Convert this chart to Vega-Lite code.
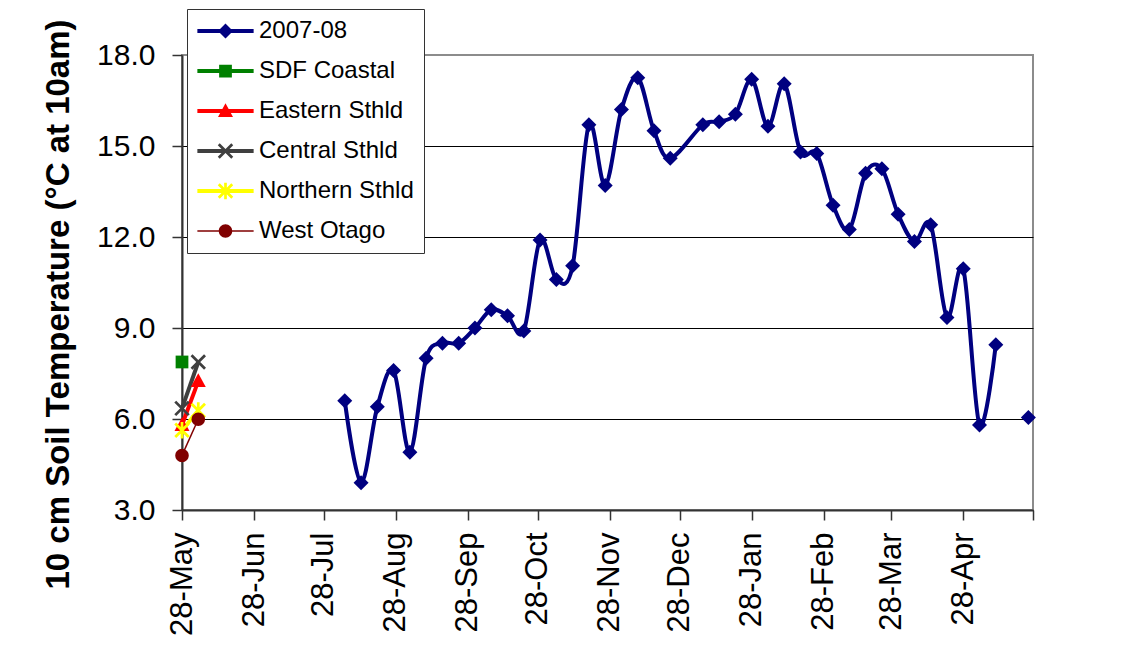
{
  "$schema": "https://vega.github.io/schema/vega-lite/v6.json",
  "width": 851,
  "height": 455,
  "autosize": {"type": "none"},
  "padding": {"left": 182, "top": 55, "right": 98, "bottom": 153},
  "background": "white",
  "config": {
    "font": "Liberation Sans",
    "view": {"stroke": "#8c8c8c", "strokeWidth": 2},
    "axis": {
      "labelFont": "Liberation Sans",
      "titleFont": "Liberation Sans",
      "labelColor": "black",
      "titleColor": "black",
      "domainColor": "#333333",
      "tickColor": "#333333",
      "domainWidth": 2,
      "tickWidth": 1.5,
      "tickSize": 10,
      "gridColor": "black",
      "gridWidth": 1,
      "gridOpacity": 1
    },
    "legend": {
      "labelFont": "Liberation Sans",
      "labelFontSize": 24,
      "labelColor": "black",
      "labelLimit": 400,
      "symbolSize": 225,
      "symbolStrokeWidth": 4,
      "symbolOffset": 16.5,
      "labelOffset": 21.5,
      "rowPadding": 16,
      "padding": 10,
      "fillColor": "white",
      "strokeColor": "#333333"
    }
  },
  "data": {
    "values": [
      {"series": "2007-08", "date": "2007-08-06", "temp": 6.6},
      {"series": "2007-08", "date": "2007-08-13", "temp": 3.9},
      {"series": "2007-08", "date": "2007-08-20", "temp": 6.4},
      {"series": "2007-08", "date": "2007-08-27", "temp": 7.6},
      {"series": "2007-08", "date": "2007-09-03", "temp": 4.9},
      {"series": "2007-08", "date": "2007-09-10", "temp": 8.0},
      {"series": "2007-08", "date": "2007-09-17", "temp": 8.5},
      {"series": "2007-08", "date": "2007-09-24", "temp": 8.5},
      {"series": "2007-08", "date": "2007-10-01", "temp": 9.0},
      {"series": "2007-08", "date": "2007-10-08", "temp": 9.6},
      {"series": "2007-08", "date": "2007-10-15", "temp": 9.4},
      {"series": "2007-08", "date": "2007-10-22", "temp": 8.9},
      {"series": "2007-08", "date": "2007-10-29", "temp": 11.9},
      {"series": "2007-08", "date": "2007-11-05", "temp": 10.6},
      {"series": "2007-08", "date": "2007-11-12", "temp": 11.05},
      {"series": "2007-08", "date": "2007-11-19", "temp": 15.7},
      {"series": "2007-08", "date": "2007-11-26", "temp": 13.7},
      {"series": "2007-08", "date": "2007-12-03", "temp": 16.2},
      {"series": "2007-08", "date": "2007-12-10", "temp": 17.25},
      {"series": "2007-08", "date": "2007-12-17", "temp": 15.5},
      {"series": "2007-08", "date": "2007-12-24", "temp": 14.6},
      {"series": "2007-08", "date": "2008-01-07", "temp": 15.7},
      {"series": "2007-08", "date": "2008-01-14", "temp": 15.8},
      {"series": "2007-08", "date": "2008-01-21", "temp": 16.05},
      {"series": "2007-08", "date": "2008-01-28", "temp": 17.2},
      {"series": "2007-08", "date": "2008-02-04", "temp": 15.65},
      {"series": "2007-08", "date": "2008-02-11", "temp": 17.05},
      {"series": "2007-08", "date": "2008-02-18", "temp": 14.8},
      {"series": "2007-08", "date": "2008-02-25", "temp": 14.75},
      {"series": "2007-08", "date": "2008-03-03", "temp": 13.05},
      {"series": "2007-08", "date": "2008-03-10", "temp": 12.25},
      {"series": "2007-08", "date": "2008-03-17", "temp": 14.1},
      {"series": "2007-08", "date": "2008-03-24", "temp": 14.25},
      {"series": "2007-08", "date": "2008-03-31", "temp": 12.75},
      {"series": "2007-08", "date": "2008-04-07", "temp": 11.85},
      {"series": "2007-08", "date": "2008-04-14", "temp": 12.4},
      {"series": "2007-08", "date": "2008-04-21", "temp": 9.35},
      {"series": "2007-08", "date": "2008-04-28", "temp": 10.95},
      {"series": "2007-08", "date": "2008-05-05", "temp": 5.8},
      {"series": "2007-08", "date": "2008-05-12", "temp": 8.45},
      {"series": "2007-08", "date": "2008-05-19", "temp": null},
      {"series": "2007-08", "date": "2008-05-26", "temp": 6.05},
      {"series": "SDF Coastal", "date": "2007-05-28", "temp": 7.88},
      {"series": "Eastern Sthld", "date": "2007-05-28", "temp": 5.8},
      {"series": "Eastern Sthld", "date": "2007-06-04", "temp": 7.25},
      {"series": "Central Sthld", "date": "2007-05-28", "temp": 6.35},
      {"series": "Central Sthld", "date": "2007-06-04", "temp": 7.88},
      {"series": "Northern Sthld", "date": "2007-05-28", "temp": 5.63},
      {"series": "Northern Sthld", "date": "2007-06-04", "temp": 6.28},
      {"series": "West Otago", "date": "2007-05-28", "temp": 4.8},
      {"series": "West Otago", "date": "2007-06-04", "temp": 5.99}
    ]
  },
  "encoding": {
    "x": {
      "field": "date",
      "type": "temporal",
      "scale": {
        "type": "utc",
        "domain": [
          {"year": 2007, "month": 5, "date": 28, "utc": true},
          {"year": 2008, "month": 5, "date": 28, "utc": true}
        ]
      },
      "axis": {
        "title": null,
        "grid": false,
        "values": [
          {"year": 2007, "month": 5, "date": 28, "utc": true},
          {"year": 2007, "month": 6, "date": 28, "utc": true},
          {"year": 2007, "month": 7, "date": 28, "utc": true},
          {"year": 2007, "month": 8, "date": 28, "utc": true},
          {"year": 2007, "month": 9, "date": 28, "utc": true},
          {"year": 2007, "month": 10, "date": 28, "utc": true},
          {"year": 2007, "month": 11, "date": 28, "utc": true},
          {"year": 2007, "month": 12, "date": 28, "utc": true},
          {"year": 2008, "month": 1, "date": 28, "utc": true},
          {"year": 2008, "month": 2, "date": 28, "utc": true},
          {"year": 2008, "month": 3, "date": 28, "utc": true},
          {"year": 2008, "month": 4, "date": 28, "utc": true},
          {"year": 2008, "month": 5, "date": 28, "utc": true}
        ],
        "labelExpr": "datum.value > utc(2008, 4, 20) ? '' : utcFormat(datum.value, '%d-%b')",
        "labelAngle": -90,
        "labelAlign": "right",
        "labelBaseline": "middle",
        "labelFontSize": 31,
        "labelPadding": 12,
        "labelFlush": false,
        "labelOverlap": false,
        "labelBound": false
      }
    },
    "y": {
      "field": "temp",
      "type": "quantitative",
      "scale": {"domain": [3, 18], "nice": false, "zero": false},
      "axis": {
        "title": "10 cm Soil Temperature (°C at 10am)",
        "values": [3, 6, 9, 12, 15, 18],
        "format": ".1f",
        "labelFontSize": 30,
        "labelPadding": 17,
        "grid": true,
        "gridColor": {"condition": {"test": "datum.value >= 18", "value": "#8c8c8c"}, "value": "black"},
        "titleFontSize": 33,
        "titleFontWeight": "bold",
        "titleX": -124,
        "titleY": 249,
        "titleAngle": 270,
        "titleAlign": "center",
        "titleBaseline": "middle"
      }
    }
  },
  "resolve": {"scale": {"color": "independent", "shape": "independent"}},
  "layer": [
    {
      "mark": {"type": "line", "interpolate": "cardinal", "invalid": "break-paths-show-domains"},
      "encoding": {
        "stroke": {
          "field": "series",
          "type": "nominal",
          "scale": {
            "domain": ["West Otago", "Northern Sthld", "Central Sthld", "Eastern Sthld", "SDF Coastal", "2007-08"],
            "range": ["#800000", "#ffff00", "#3f3f3f", "#ff0000", "#008000", "#000080"]
          },
          "legend": null
        },
        "strokeWidth": {
          "condition": {"test": "datum.series === 'West Otago'", "value": 1.5},
          "value": 4
        }
      }
    },
    {
      "mark": {"type": "point", "filled": true, "size": 225, "opacity": 1},
      "encoding": {
        "color": {
          "field": "series",
          "type": "nominal",
          "scale": {
            "domain": ["West Otago", "Northern Sthld", "Central Sthld", "Eastern Sthld", "SDF Coastal", "2007-08"],
            "range": ["#800000", "#ffff00", "#3f3f3f", "#ff0000", "#008000", "#000080"]
          },
          "legend": null
        },
        "shape": {
          "field": "series",
          "type": "nominal",
          "scale": {
            "domain": ["West Otago", "Northern Sthld", "Central Sthld", "Eastern Sthld", "SDF Coastal", "2007-08"],
            "range": [
              "M0.9,0A0.9,0.9,0,1,1,-0.9,0A0.9,0.9,0,1,1,0.9,0Z",
              "M-0.77,-1.03L1.03,0.77L0.77,1.03L-1.03,-0.77ZM1.03,-0.77L-0.77,1.03L-1.03,0.77L0.77,-1.03ZM-0.18,-1.1H0.18V1.1H-0.18Z",
              "M-0.77,-1.03L1.03,0.77L0.77,1.03L-1.03,-0.77ZM1.03,-0.77L-0.77,1.03L-1.03,0.77L0.77,-1.03Z",
              "M0,-1.05L1,0.8H-1Z",
              "M-0.85,-0.85H0.85V0.85H-0.85Z",
              "M0,-1L1,0L0,1L-1,0Z"
            ]
          },
          "legend": null
        }
      }
    },
    {
      "transform": [{"filter": "false"}],
      "mark": {"type": "point", "filled": true, "size": 225, "opacity": 1},
      "encoding": {
        "color": {
          "field": "series",
          "type": "nominal",
          "scale": {
            "domain": ["2007-08", "SDF Coastal", "Eastern Sthld", "Central Sthld", "Northern Sthld", "West Otago"],
            "range": ["#000080", "#008000", "#ff0000", "#3f3f3f", "#ffff00", "#800000"]
          },
          "legend": {"title": null, "orient": "none", "legendX": 5, "legendY": -46}
        },
        "shape": {
          "field": "series",
          "type": "nominal",
          "scale": {
            "domain": ["2007-08", "SDF Coastal", "Eastern Sthld", "Central Sthld", "Northern Sthld", "West Otago"],
            "range": [
              "M-3.75,-0.27H3.75V0.27H-3.75ZM0,-1L1,0L0,1L-1,0Z",
              "M-3.75,-0.27H3.75V0.27H-3.75ZM-0.85,-0.85H0.85V0.85H-0.85Z",
              "M-3.75,-0.27H3.75V0.27H-3.75ZM0,-1.05L1,0.8H-1Z",
              "M-3.75,-0.27H3.75V0.27H-3.75ZM-0.77,-1.03L1.03,0.77L0.77,1.03L-1.03,-0.77ZM1.03,-0.77L-0.77,1.03L-1.03,0.77L0.77,-1.03Z",
              "M-3.75,-0.27H3.75V0.27H-3.75ZM-0.77,-1.03L1.03,0.77L0.77,1.03L-1.03,-0.77ZM1.03,-0.77L-0.77,1.03L-1.03,0.77L0.77,-1.03ZM-0.18,-1.1H0.18V1.1H-0.18Z",
              "M-3.75,-0.1H3.75V0.1H-3.75ZM0.9,0A0.9,0.9,0,1,1,-0.9,0A0.9,0.9,0,1,1,0.9,0Z"
            ]
          },
          "legend": {"title": null, "orient": "none", "legendX": 5, "legendY": -46}
        }
      }
    }
  ]
}
